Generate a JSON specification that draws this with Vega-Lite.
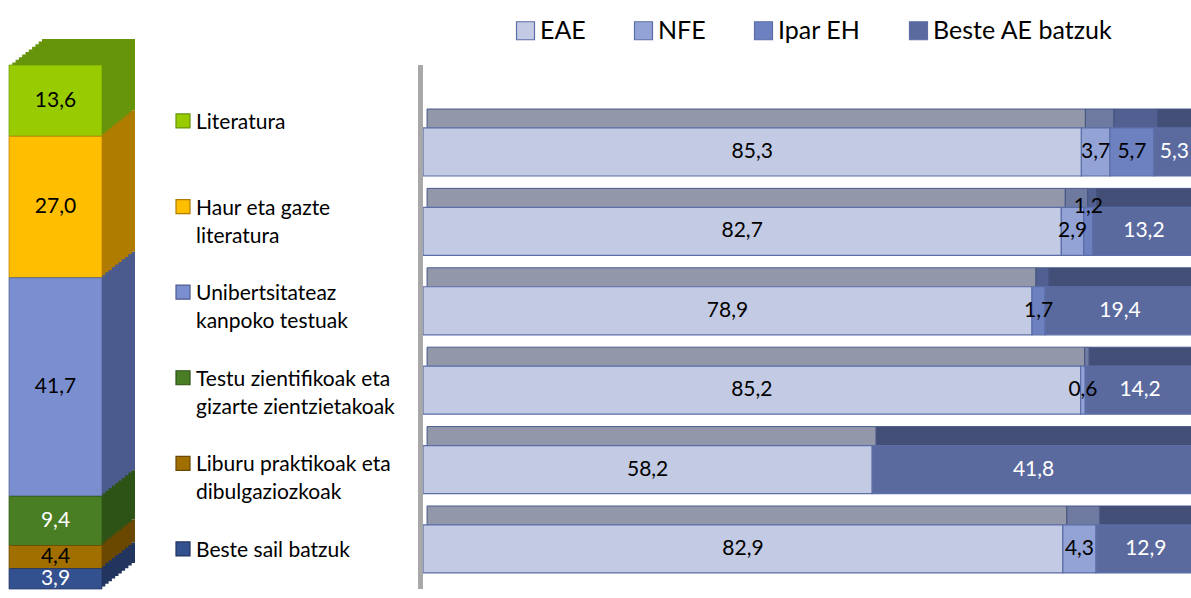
{
  "$schema": "https://vega.github.io/schema/vega-lite/v6.json",
  "background": "white",
  "padding": {"left": 0, "top": 18, "right": 0, "bottom": 0},
  "config": {
    "view": {"stroke": null},
    "font": "Lato",
    "locale": {"number": {"decimal": ",", "thousands": ".", "grouping": [3], "currency": ["", " €"]}}
  },
  "datasets": {
    "sailak": [
      {"sail": "Literatura", "pct": 13.6},
      {"sail": "Haur eta gazte\nliteratura", "pct": 27.0},
      {"sail": "Unibertsitateaz\nkanpoko testuak", "pct": 41.7},
      {"sail": "Testu zientifikoak eta\ngizarte zientzietakoak", "pct": 9.4},
      {"sail": "Liburu praktikoak eta\ndibulgaziozkoak", "pct": 4.4},
      {"sail": "Beste sail batzuk", "pct": 3.9}
    ],
    "eskualdeak": [
      {"sail": "Literatura", "region": "EAE", "pct": 85.3},
      {"sail": "Literatura", "region": "NFE", "pct": 3.7},
      {"sail": "Literatura", "region": "Ipar EH", "pct": 5.7},
      {"sail": "Literatura", "region": "Beste AE batzuk", "pct": 5.3},
      {"sail": "Haur eta gazte\nliteratura", "region": "EAE", "pct": 82.7},
      {"sail": "Haur eta gazte\nliteratura", "region": "NFE", "pct": 2.9},
      {"sail": "Haur eta gazte\nliteratura", "region": "Ipar EH", "pct": 1.2},
      {"sail": "Haur eta gazte\nliteratura", "region": "Beste AE batzuk", "pct": 13.2},
      {"sail": "Unibertsitateaz\nkanpoko testuak", "region": "EAE", "pct": 78.9},
      {"sail": "Unibertsitateaz\nkanpoko testuak", "region": "Ipar EH", "pct": 1.7},
      {"sail": "Unibertsitateaz\nkanpoko testuak", "region": "Beste AE batzuk", "pct": 19.4},
      {"sail": "Testu zientifikoak eta\ngizarte zientzietakoak", "region": "EAE", "pct": 85.2},
      {"sail": "Testu zientifikoak eta\ngizarte zientzietakoak", "region": "NFE", "pct": 0.6},
      {"sail": "Testu zientifikoak eta\ngizarte zientzietakoak", "region": "Beste AE batzuk", "pct": 14.2},
      {"sail": "Liburu praktikoak eta\ndibulgaziozkoak", "region": "EAE", "pct": 58.2},
      {"sail": "Liburu praktikoak eta\ndibulgaziozkoak", "region": "Beste AE batzuk", "pct": 41.8},
      {"sail": "Beste sail batzuk", "region": "EAE", "pct": 82.9},
      {"sail": "Beste sail batzuk", "region": "NFE", "pct": 4.3},
      {"sail": "Beste sail batzuk", "region": "Beste AE batzuk", "pct": 12.9}
    ]
  },
  "bounds": "flush",
  "spacing": 65,
  "resolve": {
    "scale": {"color": "independent", "fill": "independent", "stroke": "independent", "x": "independent", "y": "independent"},
    "legend": {"color": "independent", "fill": "independent", "stroke": "independent"}
  },
  "hconcat": [
    {
      "width": 111,
      "height": 524,
      "data": {"name": "sailak"},
      "transform": [
        {"calculate": "indexof(['Best','Libu','Test','Unib','Haur','Lite'], substring(datum.sail,0,4))", "as": "ord"},
        {"stack": "pct", "groupby": [], "sort": [{"field": "ord", "order": "ascending"}], "as": ["y0", "y1"]},
        {"calculate": "(datum.y0 + datum.y1) / 2", "as": "ymid"}
      ],
      "layer": [
        {
          "encoding": {
            "x": {"datum": "s", "type": "nominal", "axis": null},
            "y": {"field": "y0", "type": "quantitative", "scale": {"domain": [0, 100], "nice": false}, "axis": null},
            "y2": {"field": "y1"}
          },
          "layer": [
            {"mark": {"type": "bar", "width": 93, "xOffset": 33, "yOffset": -26, "y2Offset": -26},
             "encoding": {"fill": {"field": "sail", "type": "nominal", "scale": {"domain": ["Literatura", "Haur eta gazte\nliteratura", "Unibertsitateaz\nkanpoko testuak", "Testu zientifikoak eta\ngizarte zientzietakoak", "Liburu praktikoak eta\ndibulgaziozkoak", "Beste sail batzuk"], "range": ["#66940a", "#b07c00", "#4c5b8d", "#2e5316", "#6a4800", "#22355f"]}, "legend": null}}},
            {"mark": {"type": "bar", "width": 93, "xOffset": 29.7, "yOffset": -23.4, "y2Offset": -23.4},
             "encoding": {"fill": {"field": "sail", "type": "nominal", "scale": {"domain": ["Literatura", "Haur eta gazte\nliteratura", "Unibertsitateaz\nkanpoko testuak", "Testu zientifikoak eta\ngizarte zientzietakoak", "Liburu praktikoak eta\ndibulgaziozkoak", "Beste sail batzuk"], "range": ["#66940a", "#b07c00", "#4c5b8d", "#2e5316", "#6a4800", "#22355f"]}, "legend": null}}},
            {"mark": {"type": "bar", "width": 93, "xOffset": 26.4, "yOffset": -20.8, "y2Offset": -20.8},
             "encoding": {"fill": {"field": "sail", "type": "nominal", "scale": {"domain": ["Literatura", "Haur eta gazte\nliteratura", "Unibertsitateaz\nkanpoko testuak", "Testu zientifikoak eta\ngizarte zientzietakoak", "Liburu praktikoak eta\ndibulgaziozkoak", "Beste sail batzuk"], "range": ["#66940a", "#b07c00", "#4c5b8d", "#2e5316", "#6a4800", "#22355f"]}, "legend": null}}},
            {"mark": {"type": "bar", "width": 93, "xOffset": 23.1, "yOffset": -18.2, "y2Offset": -18.2},
             "encoding": {"fill": {"field": "sail", "type": "nominal", "scale": {"domain": ["Literatura", "Haur eta gazte\nliteratura", "Unibertsitateaz\nkanpoko testuak", "Testu zientifikoak eta\ngizarte zientzietakoak", "Liburu praktikoak eta\ndibulgaziozkoak", "Beste sail batzuk"], "range": ["#66940a", "#b07c00", "#4c5b8d", "#2e5316", "#6a4800", "#22355f"]}, "legend": null}}},
            {"mark": {"type": "bar", "width": 93, "xOffset": 19.8, "yOffset": -15.6, "y2Offset": -15.6},
             "encoding": {"fill": {"field": "sail", "type": "nominal", "scale": {"domain": ["Literatura", "Haur eta gazte\nliteratura", "Unibertsitateaz\nkanpoko testuak", "Testu zientifikoak eta\ngizarte zientzietakoak", "Liburu praktikoak eta\ndibulgaziozkoak", "Beste sail batzuk"], "range": ["#66940a", "#b07c00", "#4c5b8d", "#2e5316", "#6a4800", "#22355f"]}, "legend": null}}},
            {"mark": {"type": "bar", "width": 93, "xOffset": 16.5, "yOffset": -13, "y2Offset": -13},
             "encoding": {"fill": {"field": "sail", "type": "nominal", "scale": {"domain": ["Literatura", "Haur eta gazte\nliteratura", "Unibertsitateaz\nkanpoko testuak", "Testu zientifikoak eta\ngizarte zientzietakoak", "Liburu praktikoak eta\ndibulgaziozkoak", "Beste sail batzuk"], "range": ["#66940a", "#b07c00", "#4c5b8d", "#2e5316", "#6a4800", "#22355f"]}, "legend": null}}},
            {"mark": {"type": "bar", "width": 93, "xOffset": 13.2, "yOffset": -10.4, "y2Offset": -10.4},
             "encoding": {"fill": {"field": "sail", "type": "nominal", "scale": {"domain": ["Literatura", "Haur eta gazte\nliteratura", "Unibertsitateaz\nkanpoko testuak", "Testu zientifikoak eta\ngizarte zientzietakoak", "Liburu praktikoak eta\ndibulgaziozkoak", "Beste sail batzuk"], "range": ["#66940a", "#b07c00", "#4c5b8d", "#2e5316", "#6a4800", "#22355f"]}, "legend": null}}},
            {"mark": {"type": "bar", "width": 93, "xOffset": 9.9, "yOffset": -7.8, "y2Offset": -7.8},
             "encoding": {"fill": {"field": "sail", "type": "nominal", "scale": {"domain": ["Literatura", "Haur eta gazte\nliteratura", "Unibertsitateaz\nkanpoko testuak", "Testu zientifikoak eta\ngizarte zientzietakoak", "Liburu praktikoak eta\ndibulgaziozkoak", "Beste sail batzuk"], "range": ["#66940a", "#b07c00", "#4c5b8d", "#2e5316", "#6a4800", "#22355f"]}, "legend": null}}},
            {"mark": {"type": "bar", "width": 93, "xOffset": 6.6, "yOffset": -5.2, "y2Offset": -5.2},
             "encoding": {"fill": {"field": "sail", "type": "nominal", "scale": {"domain": ["Literatura", "Haur eta gazte\nliteratura", "Unibertsitateaz\nkanpoko testuak", "Testu zientifikoak eta\ngizarte zientzietakoak", "Liburu praktikoak eta\ndibulgaziozkoak", "Beste sail batzuk"], "range": ["#66940a", "#b07c00", "#4c5b8d", "#2e5316", "#6a4800", "#22355f"]}, "legend": null}}},
            {"mark": {"type": "bar", "width": 93, "xOffset": 3.3, "yOffset": -2.6, "y2Offset": -2.6},
             "encoding": {"fill": {"field": "sail", "type": "nominal", "scale": {"domain": ["Literatura", "Haur eta gazte\nliteratura", "Unibertsitateaz\nkanpoko testuak", "Testu zientifikoak eta\ngizarte zientzietakoak", "Liburu praktikoak eta\ndibulgaziozkoak", "Beste sail batzuk"], "range": ["#66940a", "#b07c00", "#4c5b8d", "#2e5316", "#6a4800", "#22355f"]}, "legend": null}}},
            {"mark": {"type": "bar", "width": 93, "strokeWidth": 1, "strokeOpacity": 0.7},
             "encoding": {
               "color": {"field": "sail", "type": "nominal", "scale": {"domain": ["Literatura", "Haur eta gazte\nliteratura", "Unibertsitateaz\nkanpoko testuak", "Testu zientifikoak eta\ngizarte zientzietakoak", "Liburu praktikoak eta\ndibulgaziozkoak", "Beste sail batzuk"], "range": ["#99cc00", "#ffbe00", "#7b8fd0", "#4a7e24", "#a06f00", "#34518f"]}, "legend": null},
               "stroke": {"field": "sail", "type": "nominal", "scale": {"domain": ["Literatura", "Haur eta gazte\nliteratura", "Unibertsitateaz\nkanpoko testuak", "Testu zientifikoak eta\ngizarte zientzietakoak", "Liburu praktikoak eta\ndibulgaziozkoak", "Beste sail batzuk"], "range": ["#66940a", "#b07c00", "#4c5b8d", "#2e5316", "#6a4800", "#22355f"]}, "legend": null}
             }}
          ]
        },
        {
          "mark": {"type": "text", "fontSize": 21, "font": "Lato"},
          "encoding": {
            "x": {"datum": "s", "type": "nominal", "axis": null},
            "y": {"field": "ymid", "type": "quantitative", "scale": {"domain": [0, 100], "nice": false}, "axis": null},
            "text": {"field": "pct", "type": "quantitative", "format": ".1f"},
            "color": {"condition": {"test": "datum.ord == 0 || datum.ord == 2", "value": "white"}, "value": "black"}
          }
        }
      ]
    },
    {
      "bounds": "flush",
      "spacing": 233,
      "resolve": {
        "scale": {"color": "independent", "fill": "independent", "stroke": "independent", "x": "independent", "y": "independent"},
        "legend": {"color": "independent", "fill": "independent", "stroke": "independent"}
      },
      "hconcat": [
        {
          "width": 14,
          "height": 524,
          "data": {"name": "sailak"},
          "encoding": {
            "y": {"field": "sail", "type": "nominal", "sort": null, "scale": {"type": "point", "padding": 0.5607, "align": 0.583}, "axis": null}
          },
          "layer": [
            {
              "mark": {"type": "point", "shape": "square", "filled": true, "size": 196, "opacity": 1, "strokeWidth": 1.2},
              "encoding": {
                "color": {"field": "sail", "type": "nominal", "scale": {"domain": ["Literatura", "Haur eta gazte\nliteratura", "Unibertsitateaz\nkanpoko testuak", "Testu zientifikoak eta\ngizarte zientzietakoak", "Liburu praktikoak eta\ndibulgaziozkoak", "Beste sail batzuk"], "range": ["#99cc00", "#ffbe00", "#7b8fd0", "#4a7e24", "#a06f00", "#34518f"]}, "legend": null},
                "stroke": {"field": "sail", "type": "nominal", "scale": {"domain": ["Literatura", "Haur eta gazte\nliteratura", "Unibertsitateaz\nkanpoko testuak", "Testu zientifikoak eta\ngizarte zientzietakoak", "Liburu praktikoak eta\ndibulgaziozkoak", "Beste sail batzuk"], "range": ["#66940a", "#b07c00", "#4c5b8d", "#2e5316", "#6a4800", "#22355f"]}, "legend": null}
              }
            },
            {
              "mark": {"type": "text", "align": "left", "baseline": "top", "dx": 13, "dy": -9, "fontSize": 21, "font": "Lato", "lineBreak": "\n", "lineHeight": 28, "color": "black"},
              "encoding": {"text": {"field": "sail"}}
            }
          ]
        },
        {
          "width": 768,
          "height": 524,
          "data": {"name": "eskualdeak"},
          "transform": [
            {"calculate": "indexof(['EAE','NFE','Ipar EH','Beste AE batzuk'], datum.region)", "as": "ord"},
            {"stack": "pct", "groupby": ["sail"], "sort": [{"field": "ord", "order": "ascending"}], "as": ["x0", "x1"]},
            {"calculate": "(datum.x0 + datum.x1) / 2", "as": "xmid"}
          ],
          "layer": [
            {
              "mark": {"type": "rule", "color": "#a8a8a8", "strokeWidth": 5, "xOffset": -2.5},
              "encoding": {"x": {"datum": 0, "type": "quantitative", "scale": {"domain": [0, 99.5], "nice": false}, "axis": null}}
            },
            {
              "mark": {"type": "bar", "xOffset": 4, "x2Offset": 4, "yOffset": -19, "clip": true, "stroke": "#5b6ea8", "strokeWidth": 1},
              "encoding": {
                "x": {"field": "x0", "type": "quantitative", "scale": {"domain": [0, 99.5], "nice": false}, "axis": null},
                "x2": {"field": "x1"},
                "y": {"field": "sail", "type": "nominal", "sort": null, "scale": {"type": "band", "paddingInner": 0.395, "paddingOuter": 0.4975, "align": 0.797}, "axis": null},
                "color": {"field": "region", "type": "nominal", "scale": {"domain": ["EAE", "NFE", "Ipar EH", "Beste AE batzuk"], "range": ["#c3cae3", "#94a3d6", "#6d80c0", "#5a6a9e"]}}
              }
            },
            {
              "mark": {"type": "bar", "xOffset": 4, "x2Offset": 4, "yOffset": -19, "clip": true, "color": "black", "fillOpacity": 0.25, "strokeOpacity": 0},
              "encoding": {
                "x": {"field": "x0", "type": "quantitative", "scale": {"domain": [0, 99.5], "nice": false}, "axis": null},
                "x2": {"field": "x1"},
                "y": {"field": "sail", "type": "nominal", "sort": null, "scale": {"type": "band", "paddingInner": 0.395, "paddingOuter": 0.4975, "align": 0.797}, "axis": null}
              }
            },
            {
              "mark": {"type": "bar", "clip": true, "stroke": "#5b6ea8", "strokeWidth": 1.2},
              "encoding": {
                "x": {"field": "x0", "type": "quantitative", "scale": {"domain": [0, 99.5], "nice": false}, "axis": null},
                "x2": {"field": "x1"},
                "y": {"field": "sail", "type": "nominal", "sort": null, "scale": {"type": "band", "paddingInner": 0.395, "paddingOuter": 0.4975, "align": 0.797}, "axis": null},
                "color": {
                  "field": "region", "type": "nominal",
                  "scale": {"domain": ["EAE", "NFE", "Ipar EH", "Beste AE batzuk"], "range": ["#c3cae3", "#94a3d6", "#6d80c0", "#5a6a9e"]},
                  "legend": {
                    "title": null, "orient": "none", "legendX": 90, "legendY": -47, "direction": "horizontal", "columns": 4,
                    "symbolType": "square", "symbolSize": 324, "symbolStrokeColor": "#5b6ea8", "symbolStrokeWidth": 1.2, "symbolOpacity": 1,
                    "labelFont": "Lato", "labelFontSize": 25, "labelColor": "black", "labelOffset": 2, "labelLimit": 400, "columnPadding": 45, "padding": 0
                  }
                }
              }
            },
            {
              "transform": [{"filter": "!(substring(datum.sail,0,4) === 'Haur' && datum.region === 'Ipar EH')"}],
              "mark": {"type": "text", "fontSize": 21, "font": "Lato"},
              "encoding": {
                "x": {"field": "xmid", "type": "quantitative", "scale": {"domain": [0, 99.5], "nice": false}, "axis": null},
                "y": {"field": "sail", "type": "nominal", "sort": null, "scale": {"type": "band", "paddingInner": 0.395, "paddingOuter": 0.4975, "align": 0.797}, "axis": null},
                "text": {"field": "pct", "type": "quantitative", "format": ".1f"},
                "color": {"condition": {"test": "datum.region === 'Beste AE batzuk'", "value": "white"}, "value": "black"}
              }
            },
            {
              "transform": [{"filter": "substring(datum.sail,0,4) === 'Haur' && datum.region === 'Ipar EH'"}],
              "mark": {"type": "text", "fontSize": 21, "font": "Lato", "dy": -24},
              "encoding": {
                "x": {"field": "xmid", "type": "quantitative", "scale": {"domain": [0, 99.5], "nice": false}, "axis": null},
                "y": {"field": "sail", "type": "nominal", "sort": null, "scale": {"type": "band", "paddingInner": 0.395, "paddingOuter": 0.4975, "align": 0.797}, "axis": null},
                "text": {"field": "pct", "type": "quantitative", "format": ".1f"},
                "color": {"value": "black"}
              }
            }
          ]
        }
      ]
    }
  ]
}
